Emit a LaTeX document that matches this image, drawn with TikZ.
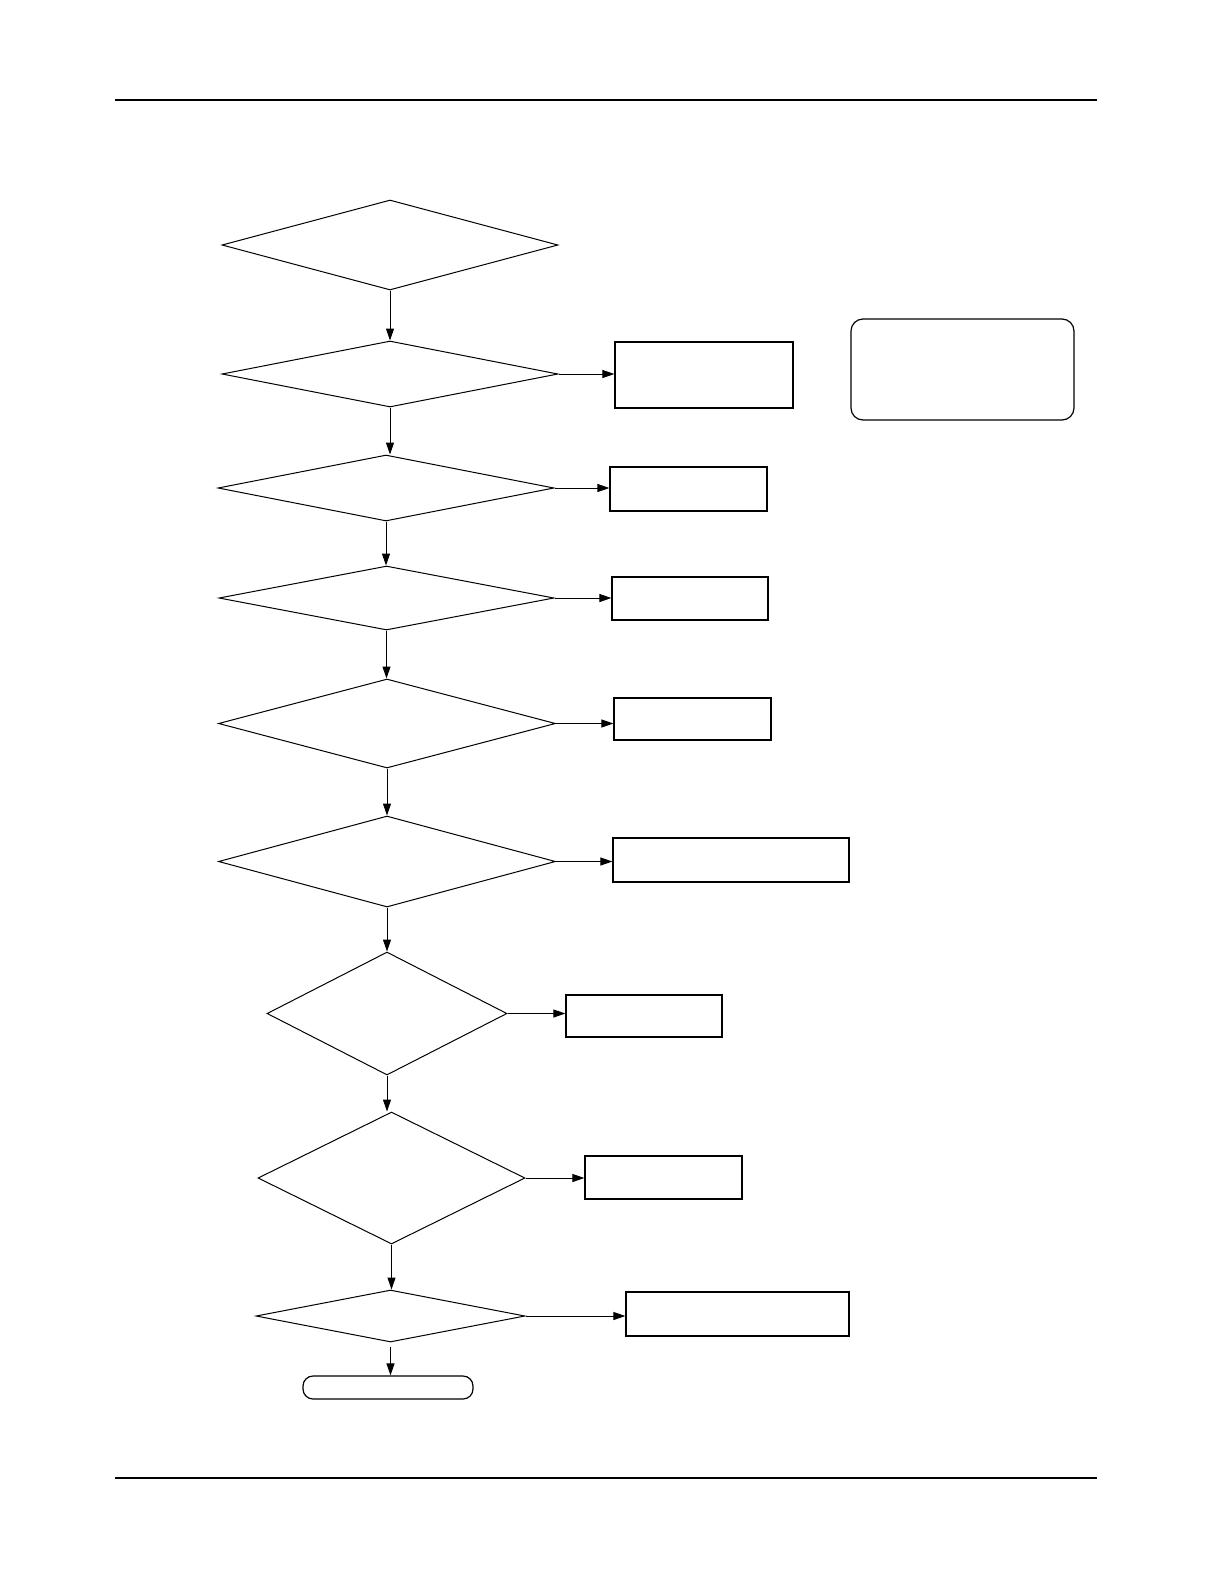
\documentclass[tikz,border=0pt]{standalone}
\usetikzlibrary{shapes.geometric,arrows.meta}
\begin{document}
\begin{tikzpicture}[x=0.5pt,y=-0.5pt,
    losange/.style={draw,diamond,inner sep=0pt,line width=0.5pt},
    boite/.style={draw,rectangle,inner sep=0pt,line width=0.6pt},
    arrondi/.style={draw,rectangle,rounded corners=6pt,inner sep=0pt,line width=0.6pt},
    fleche/.style={-{Triangle[length=6pt,width=4pt]},line width=0.5pt}]
    \useasboundingbox (0,0) rectangle (1225,1585);

    % Dessine les filets
    \draw[line width=0.9pt] (115,100) -- (1097,100);
    \draw[line width=0.9pt] (115,1478) -- (1097,1478);

    % Dessine les losanges
    \node[losange,minimum width=168pt,minimum height=45pt] (d1) at (390,245) {};
    \node[losange,minimum width=168pt,minimum height=33pt] (d2) at (390,374) {};
    \node[losange,minimum width=168pt,minimum height=33pt] (d3) at (386,488) {};
    \node[losange,minimum width=167.5pt,minimum height=32pt] (d4) at (386.5,598) {};
    \node[losange,minimum width=168.5pt,minimum height=44.5pt] (d5) at (387,723.5) {};
    \node[losange,minimum width=168.5pt,minimum height=45.5pt] (d6) at (387,861.5) {};
    \node[losange,minimum width=120pt,minimum height=61.5pt] (d7) at (387,1013.5) {};
    \node[losange,minimum width=133.5pt,minimum height=66pt] (d8) at (391.5,1178) {};
    \node[losange,minimum width=134.5pt,minimum height=26pt] (d9) at (390.5,1316) {};

    % Dessine les boites
    \node[boite,minimum width=89pt,minimum height=33pt] (b2) at (704,375) {};
    \node[boite,minimum width=78.5pt,minimum height=22pt] (b3) at (688.5,489) {};
    \node[boite,minimum width=78pt,minimum height=21.5pt] (b4) at (690,598.5) {};
    \node[boite,minimum width=78.5pt,minimum height=21pt] (b5) at (692.5,719) {};
    \node[boite,minimum width=118pt,minimum height=22pt] (b6) at (731,860) {};
    \node[boite,minimum width=78pt,minimum height=21pt] (b7) at (644,1016) {};
    \node[boite,minimum width=78.5pt,minimum height=21.5pt] (b8) at (663.5,1177.5) {};
    \node[boite,minimum width=111.5pt,minimum height=22pt] (b9) at (737.5,1314) {};
    \node[arrondi,minimum width=111.5pt,minimum height=50.5pt] (note) at (962.5,369.5) {};
    \node[arrondi,rounded corners=5pt,minimum width=85pt,minimum height=11.5pt] (fin) at (388,1387.5) {};

    % Dessine les fleches
    \draw[fleche] (d1.south) -- (d1.south |- d2.north);
    \draw[fleche] (d2.south) -- (d2.south |- d3.north);
    \draw[fleche] (d3.south) -- (d3.south |- d4.north);
    \draw[fleche] (d4.south) -- (d4.south |- d5.north);
    \draw[fleche] (d5.south) -- (d5.south |- d6.north);
    \draw[fleche] (d6.south) -- (d6.south |- d7.north);
    \draw[fleche] (d7.south) -- (d7.south |- d8.north);
    \draw[fleche] (d8.south) -- (d8.south |- d9.north);
    \draw[fleche] ([yshift=-2pt]d9.south) -- (d9.south |- fin.north);

    \draw[fleche] (d2.east) -- (d2.east -| b2.west);
    \draw[fleche] (d3.east) -- (d3.east -| b3.west);
    \draw[fleche] (d4.east) -- (d4.east -| b4.west);
    \draw[fleche] (d5.east) -- (d5.east -| b5.west);
    \draw[fleche] (d6.east) -- (d6.east -| b6.west);
    \draw[fleche] (d7.east) -- (d7.east -| b7.west);
    \draw[fleche] (d8.east) -- (d8.east -| b8.west);
    \draw[fleche] (d9.east) -- (d9.east -| b9.west);

\end{tikzpicture}
\end{document}
